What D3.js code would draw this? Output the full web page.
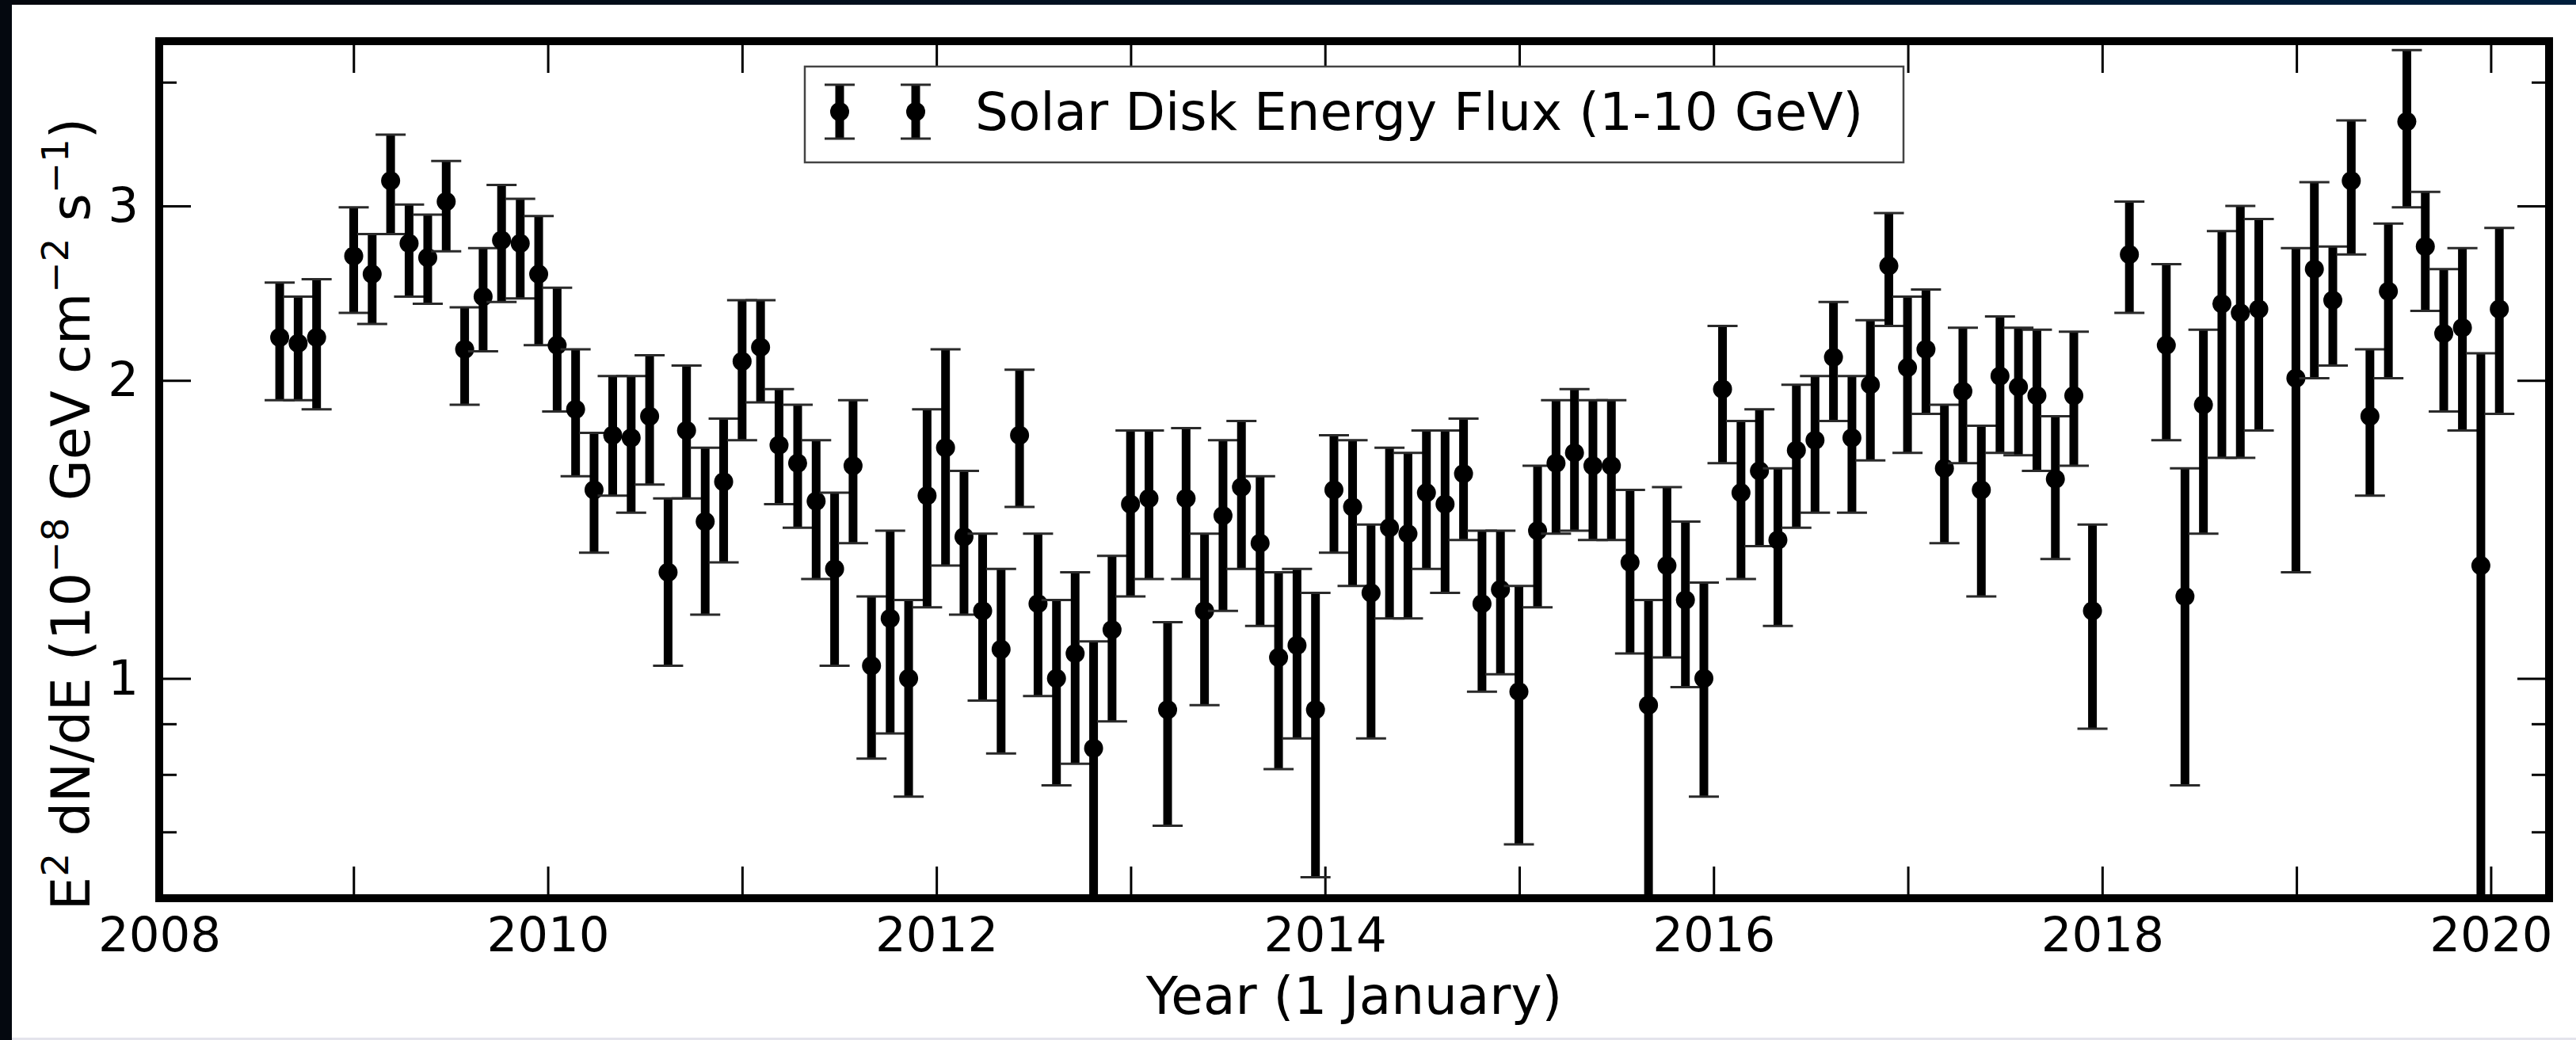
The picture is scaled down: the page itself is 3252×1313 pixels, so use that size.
<!DOCTYPE html>
<html>
<head>
<meta charset="utf-8">
<script src="https://cdn.jsdelivr.net/npm/d3@7"></script>
<style>
  html, body { margin: 0; padding: 0; background: #ffffff; }
  svg { display: block; }
  text { font-family: "DejaVu Sans", sans-serif; fill: #000; }
</style>
</head>
<body>
<svg id="chart" width="3252" height="1313"></svg>
<script>
// Solar disk energy flux, 1-10 GeV, per time bin (decimal year)
const years = [
  2008.620, 2008.715, 2008.810, 2009.001, 2009.096, 2009.191, 2009.286, 2009.382, 2009.477, 2009.572,
  2009.667, 2009.762, 2009.858, 2009.953, 2010.048, 2010.143, 2010.238, 2010.334, 2010.429, 2010.524,
  2010.619, 2010.714, 2010.810, 2010.905, 2011.000, 2011.095, 2011.190, 2011.286, 2011.381, 2011.476,
  2011.571, 2011.666, 2011.762, 2011.857, 2011.952, 2012.047, 2012.142, 2012.238, 2012.333, 2012.428,
  2012.523, 2012.618, 2012.714, 2012.809, 2012.904, 2012.999, 2013.094, 2013.190, 2013.285, 2013.380,
  2013.475, 2013.570, 2013.666, 2013.761, 2013.856, 2013.951, 2014.046, 2014.142, 2014.237, 2014.332,
  2014.427, 2014.522, 2014.618, 2014.713, 2014.808, 2014.903, 2014.998, 2015.094, 2015.189, 2015.284,
  2015.379, 2015.474, 2015.570, 2015.665, 2015.760, 2015.855, 2015.950, 2016.046, 2016.141, 2016.236,
  2016.331, 2016.426, 2016.522, 2016.617, 2016.712, 2016.807, 2016.902, 2016.998, 2017.093, 2017.188,
  2017.283, 2017.378, 2017.474, 2017.569, 2017.664, 2017.759, 2017.854, 2017.950, 2018.140, 2018.330,
  2018.426, 2018.521, 2018.616, 2018.711, 2018.806, 2018.997, 2019.092, 2019.187, 2019.282, 2019.378,
  2019.473, 2019.568, 2019.663, 2019.758, 2019.854, 2019.949, 2020.044
];

// E^2 dN/dE in units of 1e-8 GeV cm^-2 s^-1
const flux = [
  2.21, 2.18, 2.21, 2.67, 2.56, 3.18, 2.75, 2.66, 3.03, 2.15,
  2.43, 2.77, 2.75, 2.56, 2.17, 1.87, 1.55, 1.76, 1.75, 1.84,
  1.28, 1.78, 1.44, 1.58, 2.09, 2.16, 1.72, 1.65, 1.51, 1.29,
  1.64, 1.03, 1.15, 1.00, 1.53, 1.71, 1.39, 1.17, 1.07, 1.76,
  1.19, 1.00, 1.06, 0.85, 1.12, 1.50, 1.52, 0.93, 1.52, 1.17,
  1.46, 1.56, 1.37, 1.05, 1.08, 0.93, 1.55, 1.49, 1.22, 1.42,
  1.40, 1.54, 1.50, 1.61, 1.19, 1.23, 0.97, 1.41, 1.65, 1.69,
  1.64, 1.64, 1.31, 0.94, 1.30, 1.20, 1.00, 1.96, 1.54, 1.62,
  1.38, 1.70, 1.74, 2.11, 1.75, 1.98, 2.61, 2.06, 2.15, 1.63,
  1.95, 1.55, 2.02, 1.97, 1.93, 1.59, 1.93, 1.17, 2.68, 2.17,
  1.21, 1.89, 2.39, 2.34, 2.36, 2.01, 2.59, 2.41, 3.18, 1.84,
  2.46, 3.65, 2.73, 2.23, 2.26, 1.30, 2.36
];

// upper end of each error bar
const fluxHi = [
  2.51, 2.43, 2.53, 2.99, 2.81, 3.54, 3.01, 2.94, 3.33, 2.37,
  2.72, 3.15, 3.05, 2.93, 2.48, 2.15, 1.77, 2.02, 2.02, 2.12,
  1.52, 2.07, 1.71, 1.83, 2.41, 2.41, 1.96, 1.89, 1.74, 1.54,
  1.91, 1.21, 1.41, 1.20, 1.87, 2.15, 1.62, 1.40, 1.29, 2.05,
  1.40, 1.20, 1.28, 1.09, 1.33, 1.78, 1.78, 1.14, 1.79, 1.40,
  1.74, 1.82, 1.60, 1.28, 1.29, 1.22, 1.76, 1.74, 1.43, 1.71,
  1.69, 1.78, 1.78, 1.83, 1.41, 1.41, 1.24, 1.64, 1.91, 1.96,
  1.91, 1.91, 1.55, 1.20, 1.56, 1.44, 1.25, 2.27, 1.82, 1.87,
  1.63, 1.98, 2.02, 2.40, 2.02, 2.30, 2.95, 2.43, 2.47, 1.89,
  2.26, 1.80, 2.32, 2.26, 2.25, 1.84, 2.24, 1.43, 3.03, 2.62,
  1.63, 2.25, 2.83, 3.00, 2.91, 2.72, 3.17, 2.73, 3.66, 2.15,
  2.88, 4.31, 3.10, 2.59, 2.72, 2.13, 2.85
];

// lower end of each error bar
const fluxLo = [
  1.91, 1.91, 1.87, 2.34, 2.28, 2.81, 2.43, 2.39, 2.70, 1.89,
  2.14, 2.40, 2.42, 2.17, 1.86, 1.60, 1.34, 1.53, 1.47, 1.57,
  1.03, 1.52, 1.16, 1.31, 1.74, 1.90, 1.50, 1.42, 1.26, 1.03,
  1.37, 0.83, 0.88, 0.76, 1.18, 1.30, 1.16, 0.95, 0.84, 1.49,
  0.96, 0.78, 0.82, 0.55, 0.905, 1.21, 1.26, 0.71, 1.26, 0.94,
  1.17, 1.29, 1.13, 0.81, 0.87, 0.63, 1.34, 1.24, 0.87, 1.15,
  1.15, 1.29, 1.22, 1.38, 0.97, 1.01, 0.68, 1.18, 1.40, 1.41,
  1.38, 1.38, 1.06, 0.55, 1.05, 0.98, 0.76, 1.65, 1.26, 1.36,
  1.13, 1.42, 1.47, 1.82, 1.47, 1.66, 2.27, 1.69, 1.85, 1.37,
  1.65, 1.21, 1.69, 1.68, 1.62, 1.32, 1.64, 0.89, 2.34, 1.74,
  0.78, 1.40, 1.67, 1.67, 1.78, 1.28, 2.01, 2.07, 2.68, 1.53,
  2.01, 2.99, 2.35, 1.86, 1.78, 0.40, 1.85
];

// axis ticks
const yearTicks = [2008, 2009, 2010, 2011, 2012, 2013, 2014, 2015, 2016, 2017, 2018, 2019, 2020];
const yMajorTicks = [1, 2, 3];
const yMinorTicks = [0.7, 0.8, 0.9, 4];

const xLabel = "Year (1 January)";
const legendLabel = "Solar Disk Energy Flux (1-10 GeV)";

const W = 3252, H = 1313;
const plot = { left: 201, right: 3218, top: 52, bottom: 1134 };

const svg = d3.select("#chart");

// page frame: dark strips on the left and top, faint strip at the bottom
const defs = svg.append("defs");
const grad = defs.append("linearGradient").attr("id", "topband").attr("x1", 0).attr("x2", 1).attr("y1", 0).attr("y2", 0);
grad.append("stop").attr("offset", "0%").attr("stop-color", "#04070d");
grad.append("stop").attr("offset", "100%").attr("stop-color", "#001e3c");
svg.append("rect").attr("x", 0).attr("y", 0).attr("width", W).attr("height", 6).attr("fill", "url(#topband)");
svg.append("rect").attr("x", 0).attr("y", 0).attr("width", 15).attr("height", H).attr("fill", "#04080f");
svg.append("rect").attr("x", 15).attr("y", H - 3).attr("width", W - 15).attr("height", 3).attr("fill", "#e4e4ec");

const x = d3.scaleLinear().domain([2008, 2020.3]).range([plot.left, plot.right]);
const y = d3.scaleLog().domain([0.6, 4.4]).range([plot.bottom, plot.top]);

defs.append("clipPath").attr("id", "plotclip")
  .append("rect").attr("x", plot.left).attr("y", plot.top)
  .attr("width", plot.right - plot.left).attr("height", plot.bottom - plot.top);

// ----- axes (ticks point inward) -----
const tickLabelSize = 61;

function styleAxis(g) {
  g.select(".domain").remove();
  g.selectAll(".tick line").attr("stroke", "#000").attr("stroke-width", 3);
  g.selectAll(".tick text").attr("font-size", tickLabelSize).attr("fill", "#000")
    .style("font-family", "'DejaVu Sans', sans-serif");
}

svg.append("g").attr("transform", `translate(0,${plot.bottom})`)
  .call(d3.axisBottom(x).tickValues(yearTicks).tickSize(-40).tickPadding(24)
    .tickFormat(d => (d % 2 === 0 ? String(d) : "")))
  .call(styleAxis);
svg.append("g").attr("transform", `translate(0,${plot.top})`)
  .call(d3.axisTop(x).tickValues(yearTicks).tickSize(-40).tickFormat(""))
  .call(styleAxis);

svg.append("g").attr("transform", `translate(${plot.left},0)`)
  .call(d3.axisLeft(y).tickValues(yMajorTicks).tickSize(-40).tickPadding(26).tickFormat(d3.format("d")))
  .call(styleAxis);
svg.append("g").attr("transform", `translate(${plot.left},0)`)
  .call(d3.axisLeft(y).tickValues(yMinorTicks).tickSize(-22).tickFormat(""))
  .call(styleAxis);
svg.append("g").attr("transform", `translate(${plot.right},0)`)
  .call(d3.axisRight(y).tickValues(yMajorTicks).tickSize(-40).tickFormat(""))
  .call(styleAxis);
svg.append("g").attr("transform", `translate(${plot.right},0)`)
  .call(d3.axisRight(y).tickValues(yMinorTicks).tickSize(-22).tickFormat(""))
  .call(styleAxis);

// ----- error bars and points -----
const data = years.map((t, i) => ({ t, v: flux[i], hi: fluxHi[i], lo: fluxLo[i] }));
const capHalf = 19;
const capColor = "#2a2a2a";
const capWidth = 3;

const marks = svg.append("g").attr("clip-path", "url(#plotclip)");
const pt = marks.selectAll("g.pt").data(data).join("g").attr("class", "pt");
pt.append("line")
  .attr("x1", d => x(d.t)).attr("x2", d => x(d.t))
  .attr("y1", d => y(d.lo)).attr("y2", d => y(d.hi))
  .attr("stroke", "#000").attr("stroke-width", 11);
pt.append("line")
  .attr("x1", d => x(d.t) - capHalf).attr("x2", d => x(d.t) + capHalf)
  .attr("y1", d => y(d.hi)).attr("y2", d => y(d.hi))
  .attr("stroke", capColor).attr("stroke-width", capWidth);
pt.append("line")
  .attr("x1", d => x(d.t) - capHalf).attr("x2", d => x(d.t) + capHalf)
  .attr("y1", d => y(d.lo)).attr("y2", d => y(d.lo))
  .attr("stroke", capColor).attr("stroke-width", capWidth);
pt.append("circle")
  .attr("cx", d => x(d.t)).attr("cy", d => y(d.v)).attr("r", 12).attr("fill", "#000");

// ----- frame -----
svg.append("rect")
  .attr("x", plot.left).attr("y", plot.top)
  .attr("width", plot.right - plot.left).attr("height", plot.bottom - plot.top)
  .attr("fill", "none").attr("stroke", "#000").attr("stroke-width", 10);

// ----- axis titles -----
svg.append("text")
  .attr("x", (plot.left + plot.right) / 2).attr("y", 1280)
  .attr("text-anchor", "middle").attr("font-size", 66)
  .text(xLabel);

const yTitle = svg.append("text")
  .attr("transform", `translate(113,${(plot.top + plot.bottom) / 2 + 56}) rotate(-90)`)
  .attr("text-anchor", "middle").attr("font-size", 67);
yTitle.append("tspan").text("E");
yTitle.append("tspan").attr("font-size", 47).attr("dy", -27).text("2");
yTitle.append("tspan").attr("dy", 27).text(" dN/dE (10");
yTitle.append("tspan").attr("font-size", 47).attr("dy", -27).text("\u22128");
yTitle.append("tspan").attr("dy", 27).text(" GeV cm");
yTitle.append("tspan").attr("font-size", 47).attr("dy", -27).text("\u22122");
yTitle.append("tspan").attr("dy", 27).text(" s");
yTitle.append("tspan").attr("font-size", 47).attr("dy", -27).text("\u22121");
yTitle.append("tspan").attr("dy", 27).text(")");

// ----- legend -----
const lg = svg.append("g");
lg.append("rect").attr("x", 1016).attr("y", 84).attr("width", 1387).attr("height", 121)
  .attr("fill", "#fff").attr("stroke", "#444").attr("stroke-width", 2.5);
const legendPts = [1060, 1156];
legendPts.forEach(px => {
  lg.append("line").attr("x1", px).attr("x2", px).attr("y1", 107).attr("y2", 175)
    .attr("stroke", "#000").attr("stroke-width", 11);
  [107, 175].forEach(cy => lg.append("line").attr("x1", px - capHalf).attr("x2", px + capHalf)
    .attr("y1", cy).attr("y2", cy).attr("stroke", capColor).attr("stroke-width", capWidth));
  lg.append("circle").attr("cx", px).attr("cy", 141).attr("r", 12).attr("fill", "#000");
});
lg.append("text").attr("x", 1231).attr("y", 164).attr("font-size", 66).text(legendLabel);
</script>
</body>
</html>
